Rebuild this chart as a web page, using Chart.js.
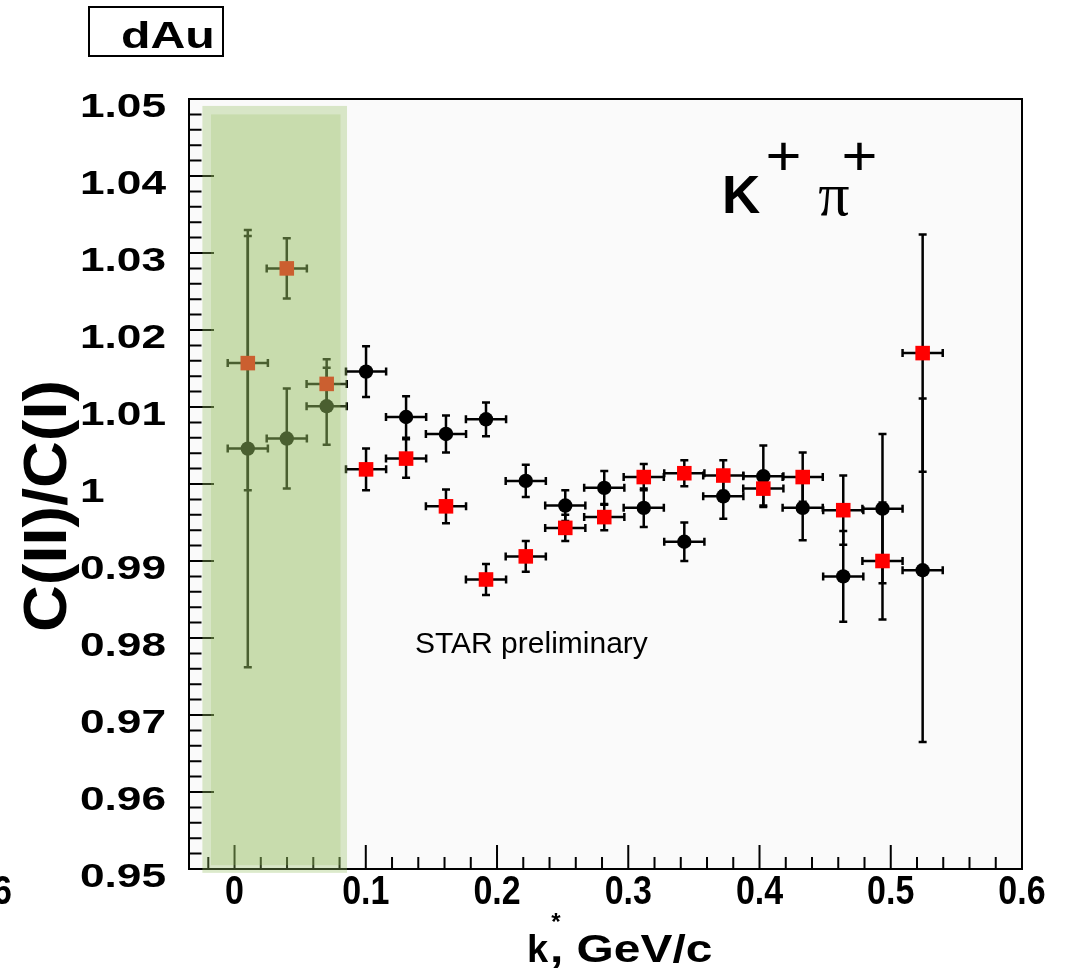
<!DOCTYPE html>
<html>
<head>
<meta charset="utf-8">
<script src="https://cdn.jsdelivr.net/npm/chart.js@4.4.0/dist/chart.umd.min.js"></script>
<style>
  html, body { margin: 0; padding: 0; background: #ffffff; }
  #wrap { width: 1073px; height: 970px; }
</style>
</head>
<body>
<div id="wrap"><canvas id="ratioChart" width="1073" height="970"></canvas></div>
<script>
"use strict";

// k* bin centres, GeV/c
const kStar = [0.0101, 0.0398, 0.0702, 0.1002, 0.1307, 0.1611, 0.1916, 0.2219, 0.2520,
               0.2817, 0.3118, 0.3427, 0.3724, 0.4029, 0.4329, 0.4638, 0.4937, 0.5243];
const binHalfWidth = 0.0153;

// red squares
const ratioSquares = [1.0157, 1.0280, 1.0130, 1.0019, 1.0033, 0.9971, 0.9876, 0.9906, 0.9943,
                      0.9957, 1.0009, 1.0014, 1.0011, 0.9994, 1.0009, 0.9966, 0.9900, 1.0170];
const errSquares = [0.0165, 0.0039, 0.0032, 0.0027, 0.0025, 0.0022, 0.0020, 0.0020, 0.0017,
                    0.0017, 0.0017, 0.0017, 0.0020, 0.0022, 0.0032, 0.0045, 0.0076, 0.0154];

// black circles
const ratioCircles = [1.0046, 1.0059, 1.0101, 1.0146, 1.0087, 1.0065, 1.0084, 1.0004, 0.9972,
                      0.9995, 0.9969, 0.9925, 0.9984, 1.0010, 0.9969, 0.9880, 0.9968, 0.9888];
const errCircles = [0.0284, 0.0065, 0.0050, 0.0033, 0.0027, 0.0024, 0.0022, 0.0021, 0.0020,
                    0.0022, 0.0025, 0.0025, 0.0029, 0.0040, 0.0042, 0.0059, 0.0097, 0.0223];

const xTickLabels = ["0", "0.1", "0.2", "0.3", "0.4", "0.5", "0.6"];
const yTickLabels = ["0.95", "0.96", "0.97", "0.98", "0.99", "1", "1.01", "1.02", "1.03", "1.04", "1.05"];

// shaded low-k* region (outer halo and inner band), in axis units
const bandOuter = { x0: -0.0245, x1: 0.0857, y0: 0.9495, y1: 1.0491 };
const bandInner = { x0: -0.0179, x1: 0.0807, y0: 0.9505, y1: 1.0480 };

const SANS = '"Liberation Sans", Arial, sans-serif';

function scaledText(ctx, text, x, y, font, sx, align) {
    ctx.save();
    ctx.font = font;
    ctx.textAlign = align || "left";
    ctx.textBaseline = "alphabetic";
    ctx.translate(x, y);
    ctx.scale(sx, 1);
    ctx.fillText(text, 0, 0);
    ctx.restore();
}

function drawErrors(chart, ys, errs, color) {
    const ctx = chart.ctx;
    const xs = chart.scales.x, ysc = chart.scales.y;
    ctx.save();
    ctx.strokeStyle = color;
    ctx.lineWidth = 2.5;
    kStar.forEach((k, i) => {
        const px = xs.getPixelForValue(k);
        const py = ysc.getPixelForValue(ys[i]);
        const xl = xs.getPixelForValue(k - binHalfWidth);
        const xr = xs.getPixelForValue(k + binHalfWidth);
        const yt = ysc.getPixelForValue(ys[i] + errs[i]);
        const yb = ysc.getPixelForValue(ys[i] - errs[i]);
        ctx.beginPath();
        ctx.moveTo(xl, py); ctx.lineTo(xr, py);
        ctx.moveTo(px, yt); ctx.lineTo(px, yb);
        ctx.moveTo(xl, py - 4); ctx.lineTo(xl, py + 4);
        ctx.moveTo(xr, py - 4); ctx.lineTo(xr, py + 4);
        ctx.moveTo(px - 4, yt); ctx.lineTo(px + 4, yt);
        ctx.moveTo(px - 4, yb); ctx.lineTo(px + 4, yb);
        ctx.stroke();
    });
    ctx.restore();
}

function fillBand(chart, b, alpha) {
    const ctx = chart.ctx;
    const xs = chart.scales.x, ysc = chart.scales.y;
    const l = xs.getPixelForValue(b.x0), r = xs.getPixelForValue(b.x1);
    const t = ysc.getPixelForValue(b.y1), btm = ysc.getPixelForValue(b.y0);
    ctx.save();
    ctx.globalAlpha = alpha;
    ctx.fillStyle = "rgb(150,190,96)";
    ctx.fillRect(l, t, r - l, btm - t);
    ctx.restore();
}

const rootStyle = {
    id: "rootStyle",
    beforeDraw(chart) {
        const a = chart.chartArea;
        chart.ctx.save();
        chart.ctx.fillStyle = "#fafafa";
        chart.ctx.fillRect(a.left, a.top, a.right - a.left, a.bottom - a.top);
        chart.ctx.restore();
    },
    beforeDatasetsDraw(chart) {
        const ctx = chart.ctx, a = chart.chartArea;
        const xs = chart.scales.x, ysc = chart.scales.y;
        ctx.save();
        ctx.strokeStyle = "#000";
        ctx.lineWidth = 2;
        ctx.beginPath();
        // x ticks every 0.02, long every 0.1
        for (let i = -1; i <= 30; i++) {
            const px = xs.getPixelForValue(i * 0.02);
            const len = i % 5 === 0 ? 24 : 12;
            ctx.moveTo(px, a.bottom); ctx.lineTo(px, a.bottom - len);
        }
        // y ticks every 0.002, long every 0.01
        for (let i = 0; i <= 50; i++) {
            const py = ysc.getPixelForValue(0.95 + i * 0.002);
            const len = i % 5 === 0 ? 25 : 12.5;
            ctx.moveTo(a.left, py); ctx.lineTo(a.left + len, py);
        }
        ctx.stroke();
        ctx.strokeRect(a.left, a.top, a.right - a.left, a.bottom - a.top);
        ctx.restore();
        drawErrors(chart, ratioCircles, errCircles, "#000");
        drawErrors(chart, ratioSquares, errSquares, "#000");
    },
    afterDatasetsDraw(chart) {
        fillBand(chart, bandOuter, 0.33);
        fillBand(chart, bandInner, 0.25);
    },
    afterDraw(chart) {
        const ctx = chart.ctx;
        const xs = chart.scales.x, ysc = chart.scales.y;
        ctx.save();
        ctx.fillStyle = "#000";

        // y tick labels
        yTickLabels.forEach((lab) => {
            const py = ysc.getPixelForValue(parseFloat(lab));
            scaledText(ctx, lab, 80, py + 18, "bold 34px " + SANS, 1.3, "left");
        });
        // x tick labels
        xTickLabels.forEach((lab) => {
            const px = xs.getPixelForValue(parseFloat(lab));
            scaledText(ctx, lab, px, 904, "bold 40px " + SANS, 0.85, "center");
        });
        // clipped label of the neighbouring pad
        scaledText(ctx, "0.6", 12, 904, "bold 40px " + SANS, 0.85, "right");

        // x title
        scaledText(ctx, "k", 527, 962, "bold 38px " + SANS, 1.0, "left");
        scaledText(ctx, "*", 556, 930, "bold 24px " + SANS, 1.0, "center");
        scaledText(ctx, ", GeV/c", 550, 962, "bold 38px " + SANS, 1.26, "left");

        // y title
        ctx.save();
        ctx.translate(66, 506);
        ctx.rotate(-Math.PI / 2);
        ctx.font = "bold 62px " + SANS;
        const w = ctx.measureText("C(II)/C(I)").width;
        ctx.scale(252 / w, 1);
        ctx.textAlign = "center";
        ctx.fillText("C(II)/C(I)", 0, 0);
        ctx.restore();

        // K+ pi+
        scaledText(ctx, "K", 722, 213, "bold 53px " + SANS, 1.0, "left");
        scaledText(ctx, "+", 783.5, 175, "56px " + SANS, 1.1, "center");
        scaledText(ctx, "\u03c0", 834, 215, '62px "Liberation Serif", serif', 1.0, "center");
        scaledText(ctx, "+", 859.5, 175, "56px " + SANS, 1.1, "center");

        // STAR preliminary
        scaledText(ctx, "STAR preliminary", 415, 653, "30px " + SANS, 1.0, "left");

        // dAu box
        ctx.fillStyle = "#fff";
        ctx.fillRect(89, 7, 134, 49);
        ctx.strokeStyle = "#000";
        ctx.lineWidth = 2;
        ctx.strokeRect(89, 7, 134, 49);
        ctx.fillStyle = "#000";
        scaledText(ctx, "dAu", 121, 48, "bold 36px " + SANS, 1.34, "left");
        ctx.restore();
    }
};

const squarePoints = kStar.map((k, i) => ({ x: k, y: ratioSquares[i] }));
const circlePoints = kStar.map((k, i) => ({ x: k, y: ratioCircles[i] }));

const ctx = document.getElementById("ratioChart").getContext("2d");
window.ratioChart = new Chart(ctx, {
    type: "scatter",
    data: {
        datasets: [
            {
                label: "squares",
                data: squarePoints,
                pointStyle: "rect",
                pointRadius: 10.3,
                pointBackgroundColor: "#ff0000",
                pointBorderWidth: 0,
                pointBorderColor: "#ff0000",
            },
            {
                label: "circles",
                data: circlePoints,
                pointStyle: "circle",
                pointRadius: 7.2,
                pointBackgroundColor: "#000000",
                pointBorderWidth: 0,
                pointBorderColor: "#000000",
            },
        ],
    },
    options: {
        responsive: false,
        animation: false,
        devicePixelRatio: 1,
        layout: { padding: { left: 189, top: 99, right: 51, bottom: 101 } },
        plugins: { legend: { display: false }, tooltip: { enabled: false } },
        scales: {
            x: {
                type: "linear",
                min: -0.0347,
                max: 0.6,
                ticks: { display: false },
                grid: { display: false, drawTicks: false },
                border: { display: false },
                afterFit: (s) => { s.height = 0; },
            },
            y: {
                type: "linear",
                min: 0.95,
                max: 1.05,
                ticks: { display: false },
                grid: { display: false, drawTicks: false },
                border: { display: false },
                afterFit: (s) => { s.width = 0; },
            },
        },
    },
    plugins: [rootStyle],
});
</script>
</body>
</html>
